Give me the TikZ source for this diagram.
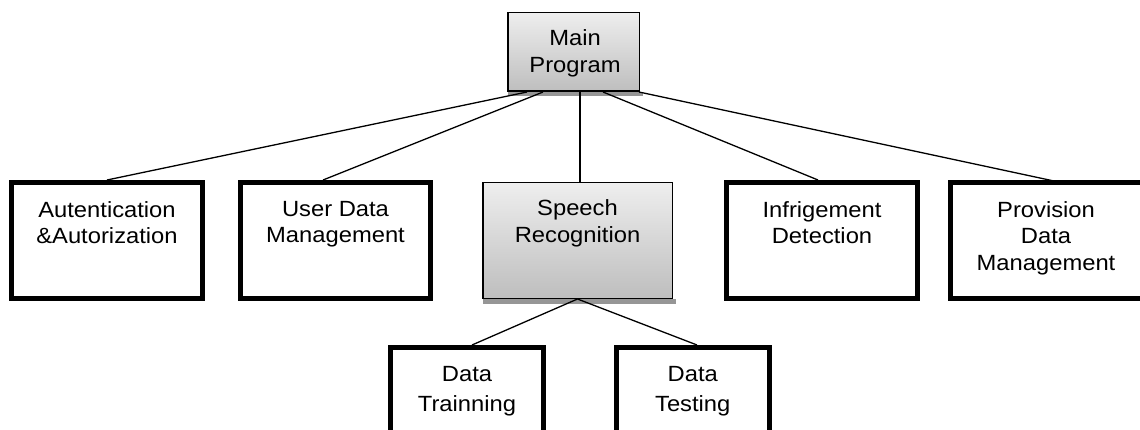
\documentclass[tikz,border=0pt]{standalone}
\usepackage{fontspec}
\setmainfont{Liberation Sans}[FakeStretch=1.08]
\usetikzlibrary{calc,backgrounds}
\definecolor{shtop}{RGB}{238,238,238}
\definecolor{shbot}{RGB}{190,190,190}
\definecolor{shadowc}{RGB}{150,150,150}
\tikzset{
  thickbox/.style={draw, line width=5pt, fill=white, inner sep=0pt},
  openbox/.style={fill=white, inner sep=0pt},
  thickedge/.style={draw, line width=5pt, line join=miter},
  gradbox/.style={draw, line width=1.5pt, top color=shtop, bottom color=shbot, inner sep=0pt},
  conn/.style={draw, line width=1.3pt},
  lbl/.style={anchor=north, inner sep=0pt, align=center, font=\fontsize{22}{26.7}\selectfont},
  lbldata/.style={lbl, font=\fontsize{22}{30}\selectfont},
  shadowstrip/.style={fill=shadowc}
}
\begin{document}
\begin{tikzpicture}[x=1pt,y=-1pt]
\useasboundingbox (0,0) rectangle (1140,430);
\clip (0,0) rectangle (1140,430);

% boxes
\node[gradbox, minimum width=131.5pt, minimum height=78.5pt] (main) at (573.5,52) {};
\node[thickbox, minimum width=191pt, minimum height=116pt] (auth) at (107,240.5) {};
\node[thickbox, minimum width=190pt, minimum height=116pt] (ud) at (335.5,240.5) {};
\node[gradbox, minimum width=189.5pt, minimum height=115.5pt] (sr) at (577.5,240.5) {};
\node[thickbox, minimum width=191pt, minimum height=116pt] (inf) at (822,240.5) {};
\node[openbox, minimum width=203pt, minimum height=116pt] (prov) at (1052,240.5) {};
\draw[thickedge] (prov.north east) -- (prov.north west) -- (prov.south west) -- (prov.south east);
\node[thickbox, minimum width=153pt, minimum height=85.5pt] (dtr) at (467,390.25) {};
\node[thickbox, minimum width=152.5pt, minimum height=85.5pt] (dte) at (692.75,390.25) {};

% shadows
\begin{pgfonlayer}{background}
\fill[shadowstrip] ($(main.south west)+(1,0)$) rectangle ($(main.south east)+(3,4.5)$);
\fill[shadowstrip] ($(sr.south west)+(1,0)$) rectangle ($(sr.south east)+(3,4.5)$);
\end{pgfonlayer}

% labels
\node[lbl] (tmain) at (575,29.2) {Main\\Program};
\node[lbl] (tauth) at (107,200.9) {Autentication\\\&Autorization};
\node[lbl] (tud) at (335.5,200.9) {User Data\\Management};
\node[lbl] (tsr) at (577.5,199.2) {Speech\\Recognition};
\node[lbl] (tinf) at (822,200.9) {Infrigement\\Detection};
\node[lbl] (tprov) at (1046,200.9) {Provision\\Data\\Management};
\node[lbldata] (tdtr) at (467,365.9) {Data\\Trainning};
\node[lbldata] (tdte) at (692.75,365.9) {Data\\Testing};

% connectors
\draw[conn] ($(main.south)+(-46.5,0)$) -- (auth.north);
\draw[conn] ($(main.south)+(-30.5,0)$) -- ($(ud.north)+(-12.5,0)$);
\draw[conn] ($(main.south)+(6.5,0)$) -- ($(sr.north)+(2.5,0)$);
\draw[conn] ($(main.south)+(29.5,0)$) -- ($(inf.north)+(-4,0)$);
\draw[conn] ($(main.south)+(65.5,0)$) -- ($(prov.north)+(8,0)$);
\draw[conn] (sr.south) -- ($(dtr.north)+(5,0)$);
\draw[conn] (sr.south) -- ($(dte.north)+(4.25,0)$);
\end{tikzpicture}
\end{document}
